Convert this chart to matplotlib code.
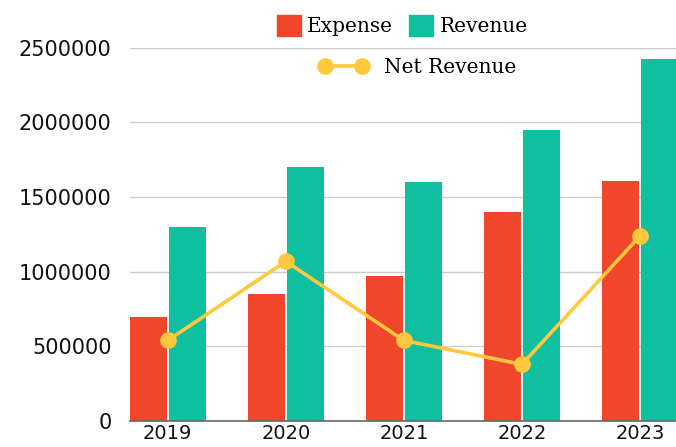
import numpy as np
import matplotlib.pyplot as plt
from matplotlib.lines import Line2D
from matplotlib.patches import Patch

# Data
years = ['2019', '2020', '2021', '2022', '2023']
expense = [700000, 850000, 975000, 1400000, 1610000]
revenue = [1300000, 1700000, 1600000, 1950000, 2425000]
net_revenue = [540000, 1070000, 540000, 380000, 1240000]

# Colours
c_expense = '#EF462C'
c_revenue = '#10BEA0'
c_net = '#FFC83D'

fig = plt.figure(figsize=(6.76, 4.47), dpi=100)
ax = fig.add_axes([0.192, 0.058, 0.808, 0.835])

x = np.arange(len(years))
w = 0.314
ax.bar(x - 0.008 - w / 2, expense, width=w, color=c_expense, zorder=2)
ax.bar(x + 0.008 + w / 2, revenue, width=w, color=c_revenue, zorder=2)
ax.plot(x, net_revenue, color=c_net, linewidth=2.6, marker='o',
        markersize=11, zorder=3)

ax.set_xlim(-0.322, 4.305)
ax.set_ylim(0, 2500000)
ax.set_yticks(np.arange(0, 2500001, 500000))
ax.set_yticklabels([str(v) for v in range(0, 2500001, 500000)])
ax.set_xticks(x)
ax.set_xticklabels(years)

ax.grid(axis='y', color='#cccccc', linewidth=1, zorder=0)
ax.set_axisbelow(True)
for s in ['top', 'right', 'left']:
    ax.spines[s].set_visible(False)
ax.spines['bottom'].set_color('#666666')
ax.spines['bottom'].set_linewidth(1.2)
ax.spines['bottom'].set_zorder(4)
ax.tick_params(axis='both', length=0, labelsize=15, colors='#111111')
ax.tick_params(axis='y', pad=13)
ax.tick_params(axis='x', labelsize=14, pad=2)

# Legend in two rows above the plot
leg_font = {'family': 'DejaVu Serif', 'size': 14.5}
h1 = [Patch(color=c_expense), Patch(color=c_revenue)]
leg1 = fig.legend(h1, ['Expense', 'Revenue'], loc='center', ncol=2,
                  bbox_to_anchor=(0.595, 0.942), frameon=False, prop=leg_font,
                  handlelength=1.2, handleheight=1.2, handletextpad=0.3,
                  columnspacing=0.8, borderaxespad=0)
h2 = [Line2D([0], [0], color=c_net, linewidth=2.6, marker='o', markersize=11)]
leg2 = fig.legend(h2, ['Net Revenue'], loc='center', numpoints=2,
                  bbox_to_anchor=(0.618, 0.85), frameon=False, prop=leg_font,
                  handlelength=2.4, handletextpad=0.8, borderaxespad=0)

fig.savefig('out.png', dpi=100)
